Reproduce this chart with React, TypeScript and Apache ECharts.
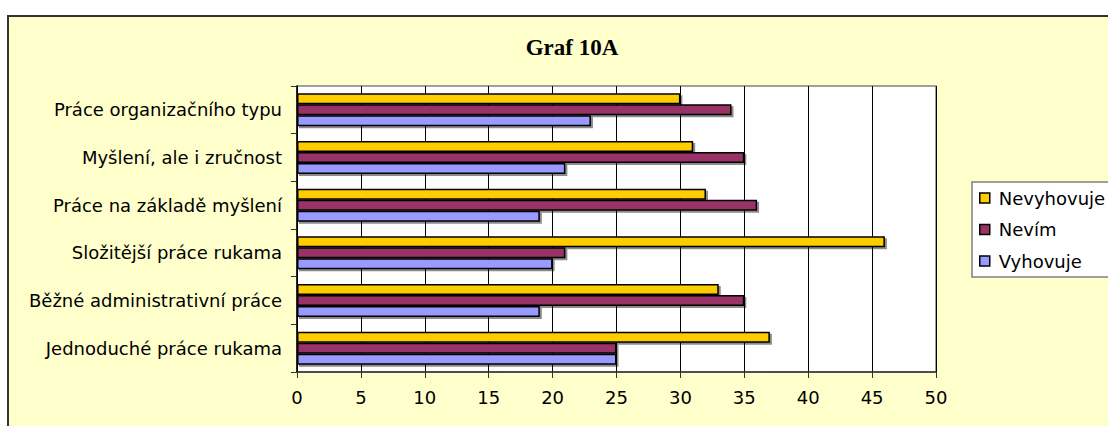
import React, { useEffect, useRef } from "react";
import * as echarts from "echarts";

const categories = [
  "Jednoduché práce rukama",
  "Běžné administrativní práce",
  "Složitější práce rukama",
  "Práce na základě myšlení",
  "Myšlení, ale i zručnost",
  "Práce organizačního typu",
];
const vyhovuje = [25, 19, 20, 19, 21, 23];
const nevim = [25, 35, 21, 36, 35, 34];
const nevyhovuje = [37, 33, 46, 32, 31, 30];
const legendOrder = ["Nevyhovuje", "Nevím", "Vyhovuje"];
const titleText = "Graf 10A";

const FONT = "DejaVu Sans";

export default function App() {
  const ref = useRef<HTMLDivElement>(null);
  useEffect(() => {
    if (!ref.current) return;
    const chart = echarts.init(ref.current, null, { renderer: "svg" });
    const barStyle = (color: string) => ({
      color,
      borderColor: "#000",
      borderWidth: 1.5,
      shadowColor: "rgba(0,0,0,0.45)",
      shadowOffsetX: 2,
      shadowOffsetY: 2,
      shadowBlur: 1,
    });
    chart.setOption({
      animation: false,
      backgroundColor: "transparent",
      title: {
        text: titleText,
        left: 567,
        top: 31,
        textAlign: "center",
        textStyle: {
          fontFamily: "Liberation Serif",
          fontWeight: "bold",
          fontSize: 23,
          color: "#000",
        },
      },
      legend: {
        data: legendOrder,
        orient: "vertical",
        left: 972,
        top: 182,
        padding: [7, 12, 7, 7],
        itemGap: 13.5,
        itemWidth: 10,
        itemHeight: 10,
        icon: "rect",
        backgroundColor: "#fff",
        borderColor: "#808080",
        borderWidth: 1.5,
        itemStyle: { borderColor: "#000", borderWidth: 1.5 },
        textStyle: {
          fontFamily: FONT,
          fontSize: 18,
          color: "#000",
          padding: [0, 0, 0, 4],
        },
      },
      grid: {
        left: 297,
        top: 86,
        right: 172,
        bottom: 54,
        show: true,
        backgroundColor: "#fff",
        borderColor: "#808080",
        borderWidth: 1.5,
      },
      xAxis: {
        type: "value",
        min: 0,
        max: 50,
        interval: 5,
        axisLine: { show: true, lineStyle: { color: "#333", width: 1.5 } },
        axisTick: { show: true, length: 6, lineStyle: { color: "#333" } },
        splitLine: { show: true, lineStyle: { color: "#000", width: 1 } },
        axisLabel: {
          fontFamily: FONT,
          fontSize: 18,
          color: "#000",
          margin: 16,
        },
      },
      yAxis: {
        type: "category",
        data: categories,
        axisLine: { show: true, lineStyle: { color: "#000", width: 1.5 } },
        axisTick: { show: true, length: 6, lineStyle: { color: "#333" } },
        axisLabel: {
          fontFamily: FONT,
          fontSize: 18,
          color: "#000",
          margin: 15,
        },
      },
      series: [
        {
          name: "Nevyhovuje",
          type: "bar",
          data: nevyhovuje,
          barWidth: 11,
          barGap: "0%",
          itemStyle: barStyle("#FFCC00"),
        },
        {
          name: "Nevím",
          type: "bar",
          data: nevim,
          barWidth: 11,
          barGap: "0%",
          itemStyle: barStyle("#993366"),
        },
        {
          name: "Vyhovuje",
          type: "bar",
          data: vyhovuje,
          barWidth: 11,
          barGap: "0%",
          itemStyle: barStyle("#9999FF"),
        },
      ],
    });
    return () => chart.dispose();
  }, []);
  return (
    <div
      style={{
        position: "absolute",
        left: 0,
        top: 0,
        width: 1108,
        height: 426,
        overflow: "hidden",
        background: "#fff",
      }}
    >
      <div
        style={{
          position: "absolute",
          left: 7,
          top: 15,
          width: 1200,
          height: 600,
          background: "#FFFFCC",
          border: "2px solid #333",
          boxSizing: "border-box",
        }}
      />
      <div
        ref={ref}
        style={{ position: "absolute", left: 0, top: 0, width: 1108, height: 426 }}
      />
    </div>
  );
}
